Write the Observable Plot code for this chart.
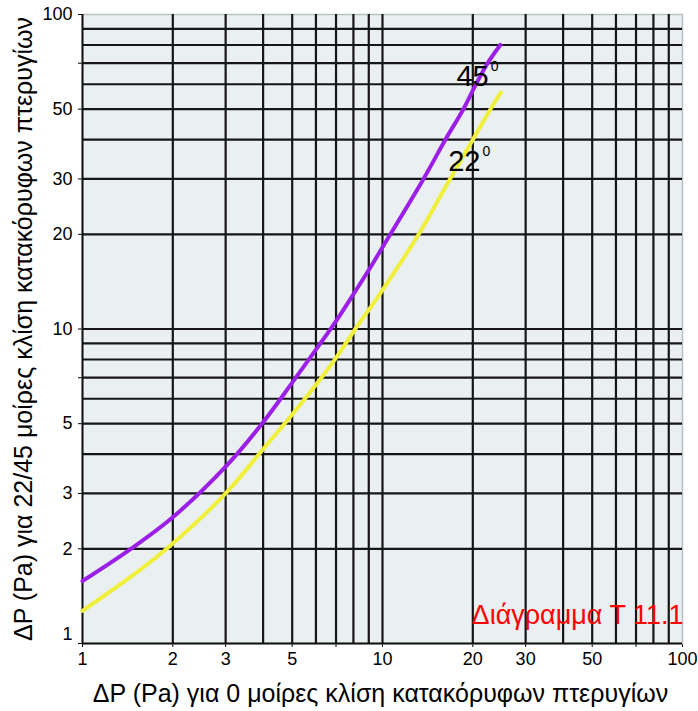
<!DOCTYPE html>
<html>
<head>
<meta charset="utf-8">
<script src="https://cdn.jsdelivr.net/npm/d3@7"></script>
<script src="https://cdn.jsdelivr.net/npm/@observablehq/plot@0.6"></script>
<style>
  body { margin: 0; background: #ffffff; }
  svg { display: block; }
</style>
</head>
<body>
<div id="chart"></div>
<script>
// Tick labels and grid values
const xTicks = [1, 2, 3, 5, 7, 10, 20, 30, 50, 70, 100];
const yTicks = [1, 2, 3, 5, 7, 10, 20, 30, 50, 70, 100];
const xGrid = [2, 3, 4, 5, 6, 7, 8, 9, 10, 20, 30, 40, 50, 60, 70, 80, 90];
const yGrid = [2, 3, 4, 5, 6, 7, 8, 9, 10, 20, 30, 40, 50, 60, 70, 80, 90];

// 45° curve
const dp0_45 = [1, 1.45, 2, 3, 4, 5, 6, 7, 8, 9, 10, 13.7, 16.2, 18.6, 20.4, 22.4, 24.7];
const dp_45  = [1.58, 2, 2.52, 3.65, 5.05, 6.75, 8.6, 10.6, 12.9, 15.4, 18.2, 30, 40, 50, 59.5, 70, 80];
// 22° curve
const dp0_22 = [1, 1.5, 2, 3, 4, 5, 6, 7, 8, 10, 13.2, 16.8, 20, 22.9, 24.8];
const dp_22  = [1.27, 1.67, 2.08, 3.0, 4.15, 5.35, 6.65, 8.1, 9.8, 13.3, 20, 30, 40, 50, 56.5];

// Text
const xLabel = "ΔP (Pa) για 0 μοίρες κλίση κατακόρυφων πτερυγίων";
const yLabel = "ΔP (Pa) για 22/45 μοίρες κλίση κατακόρυφων πτερυγίων";
const title = "Διάγραμμα Τ 11.1";
const curveNames = ["45", "22"];
const curveNameX = [22.6, 21.2];
const curveNameY = [59.4, 31.9];
const degree = "0";

const s45 = dp0_45.map((x, i) => ({x, y: dp_45[i]}));
const s22 = dp0_22.map((x, i) => ({x, y: dp_22[i]}));
const names = curveNames.map((t, i) => ({t, x: curveNameX[i], y: curveNameY[i]}));

const font = "'Liberation Sans', Arial, Helvetica, sans-serif";

const chart = Plot.plot({
  width: 698,
  height: 711,
  marginLeft: 82,
  marginRight: 16,
  marginTop: 14,
  marginBottom: 68,
  style: {fontFamily: font, fontSize: "18px", background: "#ffffff", color: "#000"},
  x: {type: "log", domain: [1, 100], label: null, ticks: xTicks, tickSize: 4, tickPadding: 5, tickFormat: d => String(d)},
  y: {type: "log", domain: [1, 100], label: null, ticks: yTicks, tickSize: 4, tickPadding: 6, tickFormat: d => d === 1 ? "" : String(d)},
  marks: [
    Plot.frame({fill: "#eaeff1", stroke: "#b9c1c5", strokeWidth: 1.5}),
    Plot.ruleX(xGrid, {stroke: "#161616", strokeWidth: 2.2}),
    Plot.ruleY(yGrid, {stroke: "#161616", strokeWidth: 2.2}),
    Plot.ruleX([1], {stroke: "#111", strokeWidth: 2}),
    Plot.ruleY([1], {stroke: "#111", strokeWidth: 2}),
    Plot.line(s22, {x: "x", y: "y", stroke: "#f0f03a", strokeWidth: 4, curve: "catmull-rom"}),
    Plot.line(s45, {x: "x", y: "y", stroke: "#9c1fe8", strokeWidth: 4, curve: "catmull-rom"}),
    Plot.text([yTicks[0]], {x: d => d, y: d => d, text: d => String(d), textAnchor: "end", fontSize: 18, dx: -10, dy: -9, fill: "#000"}),
    Plot.text(names, {x: "x", y: "y", text: "t", textAnchor: "end", lineAnchor: "bottom", fontSize: 29, fill: "#000"}),
    Plot.text(names, {x: "x", y: "y", text: () => degree, textAnchor: "start", lineAnchor: "bottom", fontSize: 14, dx: 2, dy: -15, fill: "#000"}),
    Plot.text([title], {frameAnchor: "bottom-right", text: d => d, textAnchor: "end", lineAnchor: "bottom", fontSize: 27, fill: "#ff0000", dx: 1, dy: -20}),
    Plot.text([xLabel], {frameAnchor: "bottom", text: d => d, textAnchor: "middle", lineAnchor: "bottom", fontSize: 25, dy: 58, dx: -2, fill: "#000"}),
    Plot.text([yLabel], {frameAnchor: "left", text: d => d, textAnchor: "middle", lineAnchor: "bottom", rotate: -90, fontSize: 25, dx: -51, fill: "#000"})
  ]
});

document.getElementById("chart").appendChild(chart);
</script>
</body>
</html>
